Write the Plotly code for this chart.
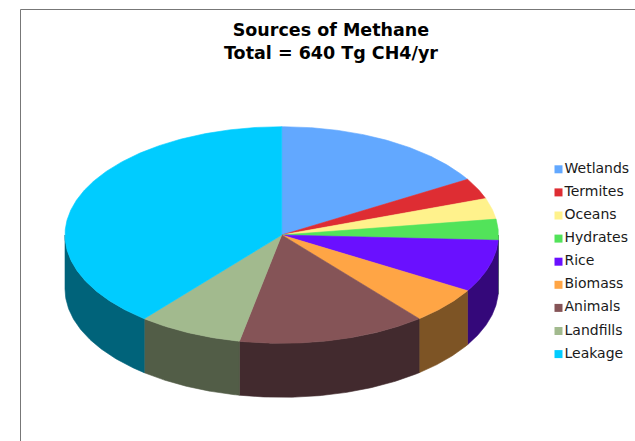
import numpy as np
import plotly.graph_objects as go

# ---- data ----
categories = ["Wetlands", "Termites", "Oceans", "Hydrates", "Rice",
              "Biomass", "Animals", "Landfills", "Leakage"]
values = [105, 20, 20, 20, 50, 35, 90, 50, 250]   # Tg CH4/yr
top_colors = ["#62A8FF", "#DE2D33", "#FFF28C", "#52E35A", "#6A10FF",
              "#FFA545", "#855457", "#A2BA8E", "#00CCFF"]
side_colors = ["#2F5179", "#6A1518", "#7A7443", "#276C2B", "#34087A",
               "#7D5425", "#422A2E", "#525D47", "#00637A"]
title_lines = ["Sources of Methane", "Total = 640 Tg CH4/yr"]

# ---- geometry (pixel space) ----
W, H = 635, 441
cx, cy = 281.7, 235.0
rx, ry = 216.7, 108.3
depth = 54.0

def pt(theta_deg, dz=0.0):
    t = np.radians(theta_deg)
    return cx + rx * np.cos(t), cy - ry * np.sin(t) + dz

fig = go.Figure()

total = float(sum(values))
angles = [90.0]
for v in values:
    angles.append(angles[-1] - v / total * 360.0)

# side walls (front half only)
for i in range(len(values)):
    a0, a1 = angles[i], angles[i + 1]  # a0 > a1
    for lo, hi in [(-180.0, 0.0), (-540.0, -360.0), (180.0, 360.0)]:
        s = min(a0, hi)
        e = max(a1, lo)
        if s <= e:
            continue
        th = np.linspace(s, e, 80)
        xs_t, ys_t = pt(th)
        xs_b, ys_b = pt(th[::-1], depth)
        xs = np.concatenate([xs_t, xs_b, xs_t[:1]])
        ys = np.concatenate([ys_t, ys_b, ys_t[:1]])
        fig.add_trace(go.Scatter(x=xs, y=ys, mode="lines", fill="toself",
                                 fillcolor=side_colors[i],
                                 line=dict(color=side_colors[i], width=0.6),
                                 hoverinfo="skip", showlegend=False))

# top faces
for i in range(len(values)):
    a0, a1 = angles[i], angles[i + 1]
    n = max(int(abs(a0 - a1) * 2), 8)
    th = np.linspace(a0, a1, n)
    xa, ya = pt(th)
    xs = np.concatenate([[cx], xa, [cx]])
    ys = np.concatenate([[cy], ya, [cy]])
    fig.add_trace(go.Scatter(x=xs, y=ys, mode="lines", fill="toself",
                             fillcolor=top_colors[i],
                             line=dict(color=top_colors[i], width=0.6),
                             name=categories[i], hoverinfo="name",
                             showlegend=False))

# legend (manual)
leg_x, leg_y0, leg_dy = 558.5, 169.3, 23.1
ly = [leg_y0 + k * leg_dy for k in range(len(categories))]
fig.add_trace(go.Scatter(x=[leg_x] * len(categories), y=ly, mode="markers",
                         marker=dict(symbol="square", size=8, color=top_colors,
                                     line=dict(width=0)),
                         hoverinfo="skip", showlegend=False))
fig.add_trace(go.Scatter(x=[leg_x + 6] * len(categories), y=ly, mode="text",
                         text=categories, textposition="middle right",
                         textfont=dict(family="DejaVu Sans", size=14,
                                       color="#1a1a1a"),
                         hoverinfo="skip", showlegend=False))

# title
fig.add_annotation(x=331, y=41, xref="x", yref="y",
                   text="<b>" + "<br>".join(title_lines) + "</b>",
                   showarrow=False, align="center",
                   font=dict(family="DejaVu Sans", size=17.5, color="#000000"))

# chart frame
fig.add_shape(type="rect", xref="x", yref="y", x0=20.5, y0=9.5, x1=700, y1=520,
              line=dict(color="#777777", width=1), layer="below")

fig.update_layout(
    width=W, height=H,
    margin=dict(l=0, r=0, t=0, b=0),
    paper_bgcolor="white", plot_bgcolor="white",
    xaxis=dict(range=[0, W], visible=False, fixedrange=True),
    yaxis=dict(range=[H, 0], visible=False, fixedrange=True),
    showlegend=False,
)

fig.write_html("out.html")
